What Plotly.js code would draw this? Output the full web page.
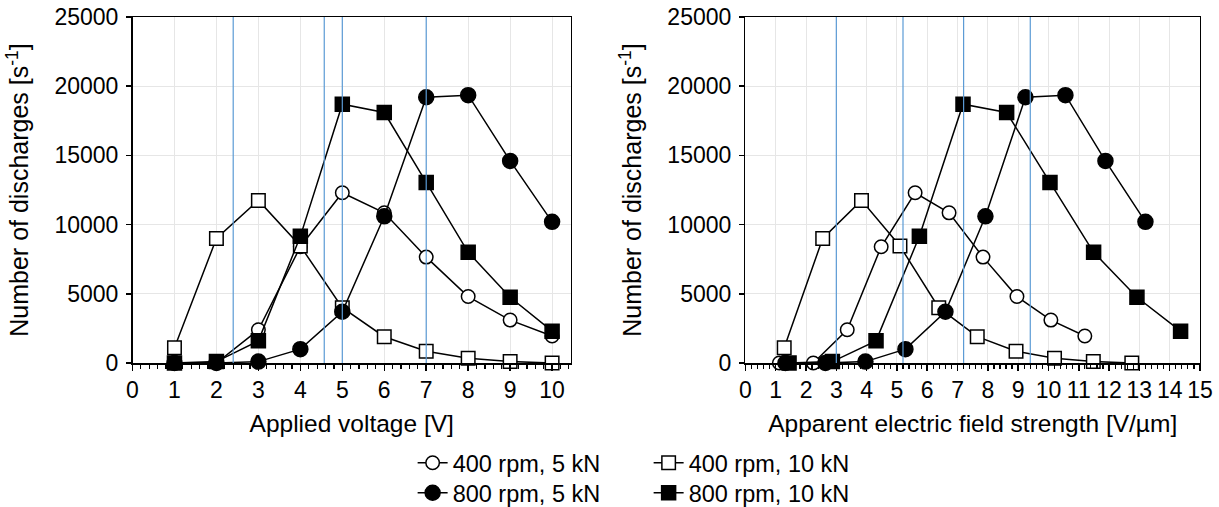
<!DOCTYPE html>
<html>
<head>
<meta charset="utf-8">
<script src="https://cdn.plot.ly/plotly-3.0.1.min.js"></script>
<style>
  html, body { margin: 0; padding: 0; background: #ffffff; }
  #chart { width: 1219px; height: 507px; }
</style>
</head>
<body>
<div id="chart"></div>
<script>
// ---- Data ----
const voltage = [1, 2, 3, 4, 5, 6, 7, 8, 9, 10];

// apparent electric field strength [V/µm] of each point (right panel)
const field_400_5  = [1.12, 2.24, 3.36, 4.48, 5.60, 6.72, 7.84, 8.96, 10.08, 11.20];
const field_400_10 = [1.28, 2.55, 3.83, 5.10, 6.38, 7.65, 8.93, 10.20, 11.48, 12.75];
const field_800_5  = [1.32, 2.64, 3.96, 5.28, 6.60, 7.92, 9.24, 10.56, 11.88, 13.20];
const field_800_10 = [1.44, 2.87, 4.31, 5.74, 7.18, 8.62, 10.05, 11.49, 12.92, 14.36];

// number of discharges [1/s]
const n_400_5  = [0, 0, 2400, 8400, 12300, 10850, 7650, 4800, 3100, 1950];
const n_400_10 = [1100, 9000, 11750, 8450, 4000, 1900, 850, 350, 100, 0];
const n_800_5  = [0, 0, 100, 1000, 3700, 10600, 19200, 19350, 14600, 10200];
const n_800_10 = [0, 100, 1600, 9150, 18700, 18100, 13050, 8000, 4750, 2300];

// vertical reference lines
const voltageRefLines = [2.4, 4.57, 5.0, 7.0];
const fieldRefLines = [3.0, 5.2, 7.2, 9.4];

const seriesNames = ["400 rpm, 5 kN", "400 rpm, 10 kN", "800 rpm, 5 kN", "800 rpm, 10 kN"];

// ---- Styling ----
const FONT = "Liberation Sans, Arial, sans-serif";
const GRID = "#e6e6e6";
const REF_BLUE = "#5b9bd5";

const styles = [
  {symbol: "circle", color: "#ffffff", size: 13.5, legend: "legend"},
  {symbol: "square", color: "#ffffff", size: 13.5, legend: "legend"},
  {symbol: "circle", color: "#000000", size: 15, legend: "legend2"},
  {symbol: "square", color: "#000000", size: 14, legend: "legend2"}
];

const yVals = [n_400_5, n_400_10, n_800_5, n_800_10];
const fieldVals = [field_400_5, field_400_10, field_800_5, field_800_10];

const traces = [];
for (let i = 0; i < 4; i++) {
  const s = styles[i];
  const common = {
    type: "scatter",
    mode: "lines+markers",
    name: seriesNames[i],
    cliponaxis: false,
    line: {color: "#000000", width: 1.5},
    marker: {symbol: s.symbol, size: s.size, color: s.color, line: {color: "#000000", width: 1.5}}
  };
  traces.push(Object.assign({}, common, {
    x: voltage, y: yVals[i], xaxis: "x", yaxis: "y",
    legend: s.legend, showlegend: true
  }));
  traces.push(Object.assign({}, common, {
    x: fieldVals[i], y: yVals[i], xaxis: "x2", yaxis: "y2",
    showlegend: false
  }));
}

function xAxis(domain, range, anchor) {
  return {
    domain: domain, range: range, anchor: anchor,
    tick0: 0, dtick: 1,
    ticks: "outside", ticklen: 6, tickwidth: 1.5, tickcolor: "#000000",
    minor: {dtick: 0.2, ticks: "outside", ticklen: 4, tickwidth: 1.2, tickcolor: "#000000", showgrid: false},
    showgrid: true, gridcolor: GRID, gridwidth: 1,
    showline: true, linecolor: "#000000", linewidth: 1.5, mirror: true,
    zeroline: false,
    tickfont: {family: FONT, size: 23, color: "#000000"},
    automargin: false
  };
}
function yAxis(anchor) {
  return {
    anchor: anchor, range: [0, 25000], tick0: 0, dtick: 5000,
    ticks: "outside", ticklen: 5, tickwidth: 1.5, tickcolor: "#000000",
    ticklabelstandoff: 3,
    showgrid: true, gridcolor: GRID, gridwidth: 1,
    showline: true, linecolor: "#000000", linewidth: 1.5, mirror: true,
    zeroline: false, tickformat: "d",
    tickfont: {family: FONT, size: 23, color: "#000000"},
    automargin: false
  };
}

const TITLE_FONT = {family: FONT, size: 24.5, color: "#000000"};
const xa = xAxis([0.1087, 0.4684], [0, 10.45], "y");
xa.title = {text: "Applied voltage [V]", font: TITLE_FONT, standoff: 13};
const xa2 = xAxis([0.6115, 0.9844], [0, 15], "y2");
xa2.title = {text: "Apparent electric field strength [V/µm]", font: TITLE_FONT, standoff: 13};
const ya = yAxis("x");
ya.title = {text: "Number of discharges [s<sup>-1</sup>]", font: {family: FONT, size: 25, color: "#000000"}, standoff: 18};
const ya2 = yAxis("x2");
ya2.title = {text: "Number of discharges [s<sup>-1</sup>]", font: {family: FONT, size: 25, color: "#000000"}, standoff: 18};

const shapes = [];
voltageRefLines.forEach(v => shapes.push({
  type: "line", xref: "x", yref: "y domain", x0: v, x1: v, y0: 0, y1: 1,
  line: {color: REF_BLUE, width: 1.2}, layer: "above"
}));
fieldRefLines.forEach(v => shapes.push({
  type: "line", xref: "x2", yref: "y2 domain", x0: v, x1: v, y0: 0, y1: 1,
  line: {color: REF_BLUE, width: 1.2}, layer: "above"
}));

const legendCommon = {
  orientation: "h", xanchor: "left", yanchor: "middle",
  xref: "container", yref: "container",
  entrywidth: 191, entrywidthmode: "pixels",
  font: {family: FONT, size: 23.5, color: "#000000"},
  bgcolor: "rgba(0,0,0,0)", borderwidth: 0, itemsizing: "trace",
  traceorder: "normal", itemclick: false, itemdoubleclick: false
};

const layout = {
  width: 1219, height: 507,
  margin: {l: 0, r: 0, t: 17, b: 144, pad: 0},
  paper_bgcolor: "#ffffff", plot_bgcolor: "#ffffff",
  font: {family: FONT, size: 23, color: "#000000"},
  xaxis: xa, yaxis: ya, xaxis2: xa2, yaxis2: ya2,
  shapes: shapes,
  legend: Object.assign({}, legendCommon, {x: 0.3385, y: 0.0868}),
  legend2: Object.assign({}, legendCommon, {x: 0.3385, y: 0.0276}),
  showlegend: true
};

Plotly.newPlot("chart", traces, layout, {staticPlot: true, displayModeBar: false});
</script>
</body>
</html>
